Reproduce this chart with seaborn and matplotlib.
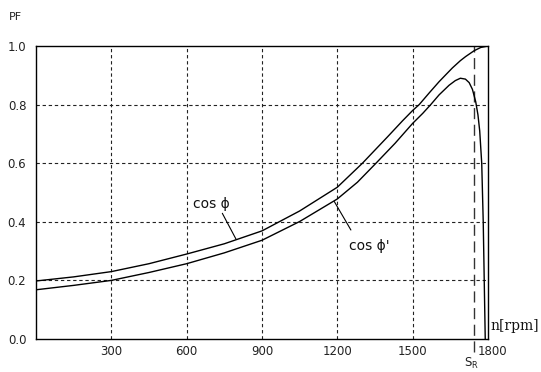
import numpy as np
import pandas as pd
import matplotlib
matplotlib.use("Agg")
import matplotlib.pyplot as plt
import matplotlib.transforms as mtransforms
import seaborn as sns

# Data
n_upper = [0, 150, 300, 450, 600, 750, 900, 1050, 1200, 1300, 1400, 1460, 1500, 1526, 1566, 1605, 1632, 1658, 1690, 1711, 1745, 1771, 1800]
pf_upper = [0.198, 0.212, 0.230, 0.257, 0.290, 0.325, 0.369, 0.437, 0.518, 0.600, 0.690, 0.745, 0.780, 0.800, 0.840, 0.878, 0.902, 0.925, 0.950, 0.964, 0.984, 0.995, 1.000]

n_lower = [0, 150, 300, 450, 600, 750, 900, 1050, 1200, 1280, 1354, 1430, 1500, 1540, 1572, 1605, 1645, 1670, 1690, 1710, 1725, 1738, 1751, 1760, 1767, 1775, 1781, 1785, 1789]
pf_lower = [0.168, 0.183, 0.200, 0.227, 0.257, 0.294, 0.337, 0.401, 0.478, 0.535, 0.600, 0.668, 0.736, 0.770, 0.800, 0.833, 0.866, 0.882, 0.890, 0.887, 0.875, 0.852, 0.810, 0.765, 0.710, 0.600, 0.400, 0.200, 0.000]

x_ticks = [300, 600, 900, 1200, 1500, 1800]
y_ticks = [0.0, 0.2, 0.4, 0.6, 0.8, 1.0]
y_labels = ["0.0", "0.2", "0.4", "0.6", "0.8", "1.0"]
s_r = 1744

sns.set_style("white")
plt.rcParams['font.family'] = ['DejaVu Sans']

fig = plt.figure(figsize=(5.41, 3.72), dpi=100)
ax = fig.add_axes([36/541, 33/372, 452/541, 293/372])

df_u = pd.DataFrame({"n": n_upper, "pf": pf_upper})
df_l = pd.DataFrame({"n": n_lower, "pf": pf_lower})

# grid
grid_kw = dict(color="#222222", lw=0.8, ls=(0, (3, 2.5)), zorder=1)
for xv in x_ticks[:-1]:
    ax.axvline(xv, **grid_kw)
for yv in y_ticks[1:-1]:
    ax.axhline(yv, **grid_kw)

sns.lineplot(data=df_u, x="n", y="pf", ax=ax, color="black", lw=1.0, zorder=3)
sns.lineplot(data=df_l, x="n", y="pf", ax=ax, color="black", lw=1.0, zorder=3)

# S_R dashed line extending below axis
ax.plot([s_r, s_r], [-0.045, 1.0], color="#333333", lw=1.0, ls=(0, (8, 4)), clip_on=False, zorder=2)
ax.text(s_r - 8, -0.108, "S$_\\mathregular{R}$", ha="center", va="bottom", fontsize=8.5, color="#222222")

ax.set_xlim(0, 1800)
ax.set_ylim(0, 1.0)
ax.set_xticks(x_ticks)
ax.set_xticklabels([str(v) for v in x_ticks], fontsize=8.5, color="#222222")
ax.set_yticks(y_ticks)
ax.set_yticklabels(y_labels, fontsize=8.5, color="#222222")
ax.tick_params(axis="both", length=0)
ax.tick_params(axis="x", pad=4)
ax.tick_params(axis="y", pad=7)
ax.set_xlabel("")
ax.set_ylabel("")
for sp in ax.spines.values():
    sp.set_color("black")
    sp.set_linewidth(1.0)
    sp.set_visible(True)

# nudge the last x label slightly right, as in the reference
last = ax.get_xticklabels()[-1]
last.set_transform(last.get_transform() + mtransforms.ScaledTranslation(4/100, 0, fig.dpi_scale_trans))

fig.text(9/541, 1 - 17/372, "PF", fontsize=8, ha="left", va="center", color="#222222")
ax.text(1808, 0.045, "n[rpm]", fontsize=10, family="DejaVu Serif", ha="left", va="center", color="#111111")

# annotations
ax.text(624, 0.46, "cos ϕ", fontsize=10, ha="left", va="center", color="#111111")
ax.plot([742, 797], [0.429, 0.340], color="black", lw=0.8)
ax.text(1248, 0.317, "cos ϕ'", fontsize=10, ha="left", va="center", color="#111111")
ax.plot([1254, 1188], [0.372, 0.469], color="black", lw=0.8)

fig.savefig("out.png", dpi=100, facecolor="white")
